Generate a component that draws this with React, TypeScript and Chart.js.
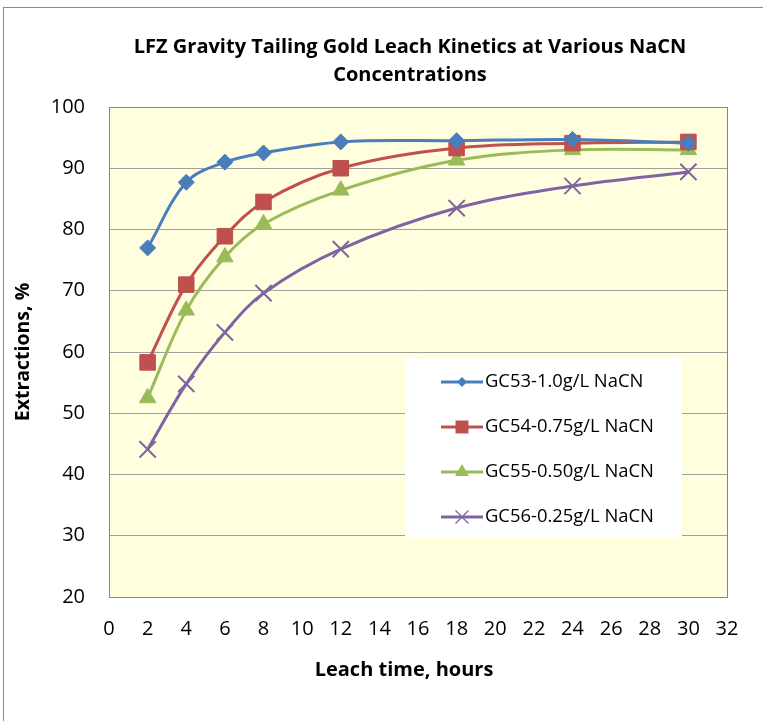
import React, { useEffect, useRef } from 'react';
import { Chart, registerables } from 'chart.js';

Chart.register(...registerables);

const titleLines = ['LFZ Gravity Tailing Gold Leach Kinetics at Various NaCN', 'Concentrations'];
const xTitle = 'Leach time, hours';
const yTitle = 'Extractions, %';

const hours = [2, 4, 6, 8, 12, 18, 24, 30];
const gc53 = [77.0, 87.7, 91.0, 92.5, 94.3, 94.5, 94.7, 94.1];
const gc54 = [58.3, 71.0, 78.9, 84.5, 90.0, 93.3, 94.1, 94.3];
const gc55 = [52.5, 66.8, 75.5, 80.9, 86.4, 91.3, 93.0, 93.0];
const gc56 = [44.1, 54.8, 63.2, 69.6, 76.8, 83.5, 87.1, 89.4];

const seriesNames = ['GC53-1.0g/L NaCN', 'GC54-0.75g/L NaCN', 'GC55-0.50g/L NaCN', 'GC56-0.25g/L NaCN'];
const seriesValues = [gc53, gc54, gc55, gc56];
const seriesColors = ['#4A7EBB', '#C0504D', '#9BBB59', '#8064A2'];
const seriesMarkers = ['rectRot', 'rect', 'triangle', 'crossRot'];
const markerRadius = [8, 11, 9.5, 11.5];
const legendMarkerRadius = [5, 6.5, 8, 6.5];

const xMin = 0, xMax = 32, xStep = 2;
const yMin = 20, yMax = 100, yStep = 10;

const FONT = '"Open Sans", "DejaVu Sans", sans-serif';

function drawMarker(ctx: CanvasRenderingContext2D, style: string, x: number, y: number, r: number, color: string) {
  ctx.save();
  ctx.fillStyle = color;
  ctx.strokeStyle = color;
  ctx.lineWidth = 1.3;
  ctx.beginPath();
  if (style === 'rectRot') {
    ctx.moveTo(x, y - r); ctx.lineTo(x + r, y); ctx.lineTo(x, y + r); ctx.lineTo(x - r, y); ctx.closePath(); ctx.fill();
  } else if (style === 'rect') {
    ctx.rect(x - r, y - r, 2 * r, 2 * r); ctx.fill();
  } else if (style === 'triangle') {
    ctx.moveTo(x, y - r); ctx.lineTo(x + r * 0.866, y + r * 0.5); ctx.lineTo(x - r * 0.866, y + r * 0.5); ctx.closePath(); ctx.fill();
  } else {
    ctx.moveTo(x - r, y - r); ctx.lineTo(x + r, y + r); ctx.moveTo(x + r, y - r); ctx.lineTo(x - r, y + r); ctx.stroke();
  }
  ctx.restore();
}

const plotDecor = {
  id: 'plotDecor',
  beforeDraw(chart: any) {
    const { ctx, chartArea: a } = chart;
    ctx.save();
    ctx.fillStyle = '#FFFFE0';
    ctx.fillRect(a.left, a.top, a.right - a.left, a.bottom - a.top);
    ctx.restore();
  },
  afterDraw(chart: any) {
    const { ctx, chartArea: a } = chart;
    ctx.save();
    ctx.strokeStyle = '#868686';
    ctx.lineWidth = 1;
    ctx.strokeRect(Math.round(a.left) + 0.5, Math.round(a.top) + 0.5, Math.round(a.right - a.left), Math.round(a.bottom - a.top));

    // chart title
    ctx.fillStyle = '#000';
    ctx.textAlign = 'center';
    ctx.textBaseline = 'middle';
    ctx.font = `bold 20px ${FONT}`;
    ctx.fillText(titleLines[0], 406, 39.5);
    ctx.fillText(titleLines[1], 406, 67);

    // x axis title
    ctx.font = `bold 20px ${FONT}`;
    ctx.fillText(xTitle, 400, 662);

    // legend box
    const bx = a.left + 296, by = a.top + 251, bw = 277, bh = 180;
    ctx.fillStyle = '#FFFFFF';
    ctx.fillRect(bx, by, bw, bh);
    ctx.font = `18.4px ${FONT}`;
    ctx.textBaseline = 'middle';
    ctx.textAlign = 'left';
    chart.data.datasets.forEach((ds: any, i: number) => {
      const cy = by + 24 + i * 45;
      ctx.strokeStyle = ds.borderColor;
      ctx.lineWidth = 3;
      ctx.beginPath();
      ctx.moveTo(bx + 36, cy);
      ctx.lineTo(bx + 78, cy);
      ctx.stroke();
      drawMarker(ctx, seriesMarkers[i], bx + 57, cy, legendMarkerRadius[i], ds.borderColor);
      ctx.fillStyle = '#000';
      ctx.fillText(ds.label, bx + 80, cy);
    });
    ctx.restore();
  },
};

export default function App() {
  const ref = useRef<HTMLCanvasElement>(null);
  useEffect(() => {
    document.body.style.margin = '0';
    const datasets = seriesNames.map((name, i) => ({
      label: name,
      data: hours.map((h, j) => ({ x: h, y: seriesValues[i][j] })),
      borderColor: seriesColors[i],
      backgroundColor: seriesColors[i],
      borderWidth: 3,
      pointStyle: seriesMarkers[i] as any,
      pointRadius: markerRadius[i],
      pointBorderWidth: seriesMarkers[i] === 'crossRot' ? 2 : 1,
      pointBackgroundColor: seriesColors[i],
      pointBorderColor: seriesColors[i],
      tension: 0.35,
      fill: false,
    }));
    const chart = new Chart(ref.current!, {
      type: 'line',
      data: { datasets },
      plugins: [plotDecor],
      options: {
        responsive: false,
        animation: false,
        devicePixelRatio: 1,
        layout: { padding: { left: 0, right: 36, top: 99, bottom: 64 } },
        plugins: {
          legend: { display: false },
          tooltip: { enabled: false },
          title: { display: false },
        },
        scales: {
          x: {
            type: 'linear',
            min: xMin,
            max: xMax,
            ticks: { stepSize: xStep, color: '#000', font: { family: FONT, size: 20 }, padding: 20, maxRotation: 0, autoSkip: false },
            grid: { display: false, drawTicks: false },
            border: { display: true, color: '#868686', width: 1 },
            title: { display: false },
            afterFit: (s: any) => { s.height = 60; },
          },
          y: {
            type: 'linear',
            min: yMin,
            max: yMax,
            ticks: { stepSize: yStep, color: '#000', font: { family: FONT, size: 20 }, padding: 24 },
            grid: { color: '#A0A0A0', lineWidth: 1, drawTicks: false },
            border: { display: true, color: '#868686', width: 1 },
            title: { display: true, text: yTitle, color: '#000', font: { family: FONT, size: 19.5, weight: 'bold', lineHeight: 1.2 }, padding: { top: 8, bottom: 0 } },
            afterFit: (s: any) => { s.width = 105; },
          },
        },
      } as any,
    });
    return () => chart.destroy();
  }, []);
  return (
    <div style={{ position: 'absolute', left: 3, top: 7, width: 760, height: 714, borderTop: '1px solid #8A8A8A', borderLeft: '1px solid #8A8A8A', boxSizing: 'border-box', background: '#fff' }}>
      <canvas ref={ref} width={759} height={713} style={{ display: 'block', width: 759, height: 713 }} />
    </div>
  );
}
